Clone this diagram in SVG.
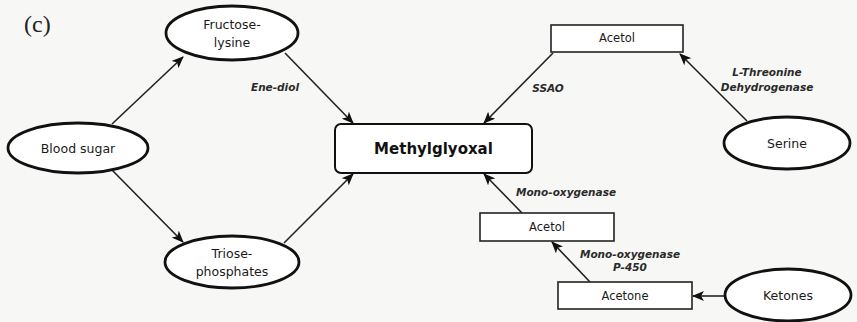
<svg xmlns="http://www.w3.org/2000/svg" width="857" height="322" viewBox="0 0 857 322">
<defs>
<style>
.e{fill:#fff;stroke:#111;stroke-width:2.8}
.r{fill:#fff;stroke:#222;stroke-width:1.6}
.t{font-family:"DejaVu Sans",Verdana,sans-serif;font-size:12.5px;fill:#1a1a1a;text-anchor:middle}
.s{font-family:"DejaVu Sans",Verdana,sans-serif;font-size:11.5px;fill:#1a1a1a;text-anchor:middle}
.l{font-family:"DejaVu Sans",Verdana,sans-serif;font-size:10.5px;font-style:italic;font-weight:bold;fill:#2a2a2a;text-anchor:middle}
.c{fill:none;stroke:#222;stroke-width:1.6;marker-end:url(#ah)}
</style>
<marker id="ah" viewBox="0 0 12 10" refX="11" refY="5" markerWidth="12" markerHeight="10" markerUnits="userSpaceOnUse" orient="auto">
<path d="M0,0 L12,5 L0,10 L3,5 Z" fill="#111"/>
</marker>
</defs>
<rect width="857" height="322" fill="#f7f7f5"/>
<text x="24" y="32" font-family="Liberation Serif,serif" font-size="24" fill="#222">(c)</text>
<g id="connectors">
<line class="c" x1="112" y1="124" x2="183" y2="57"/>
<line class="c" x1="112" y1="170" x2="183" y2="242"/>
<line class="c" x1="285" y1="53" x2="353" y2="123"/>
<line class="c" x1="284" y1="243" x2="353" y2="174"/>
<line class="c" x1="553" y1="53" x2="484" y2="123"/>
<line class="c" x1="747" y1="121" x2="680" y2="54"/>
<line class="c" x1="522" y1="213" x2="484" y2="174"/>
<line class="c" x1="590" y1="282" x2="552" y2="242"/>
<line class="c" x1="725" y1="296" x2="693" y2="296"/>
<text class="l" x="275" y="91">Ene-diol</text>
<text class="l" x="548" y="92">SSAO</text>
<text class="l" x="767" y="76">L-Threonine</text>
<text class="l" x="767" y="91">Dehydrogenase</text>
<text class="l" x="566" y="196">Mono-oxygenase</text>
<text class="l" x="630" y="258">Mono-oxygenase</text>
<text class="l" x="630" y="271">P-450</text>
</g>
<g id="fructose-lysine">
<ellipse class="e" cx="232" cy="33" rx="66" ry="27"/>
<text class="t" x="232" y="29">Fructose-</text>
<text class="t" x="232" y="47">lysine</text>
</g>
<g id="blood-sugar">
<ellipse class="e" cx="78" cy="148" rx="70" ry="25"/>
<text class="t" x="78" y="153">Blood sugar</text>
</g>
<g id="triose-phosphates">
<ellipse class="e" cx="232" cy="262" rx="67" ry="26"/>
<text class="t" x="232" y="258">Triose-</text>
<text class="t" x="232" y="276">phosphates</text>
</g>
<g id="methylglyoxal">
<rect x="335" y="124" width="197" height="49" rx="6" fill="#fff" stroke="#111" stroke-width="2"/>
<text x="433.5" y="154" font-family="DejaVu Sans,Verdana,sans-serif" font-size="15" font-weight="bold" fill="#111" text-anchor="middle">Methylglyoxal</text>
</g>
<g id="acetol-top">
<rect class="r" x="551" y="25" width="132" height="27"/>
<text class="s" x="617" y="42">Acetol</text>
</g>
<g id="serine">
<ellipse class="e" cx="787" cy="143" rx="63" ry="26"/>
<text class="t" x="787" y="148">Serine</text>
</g>
<g id="acetol-bottom">
<rect class="r" x="480" y="213" width="134" height="28"/>
<text class="s" x="547" y="231">Acetol</text>
</g>
<g id="acetone">
<rect class="r" x="558" y="282" width="134" height="27"/>
<text class="s" x="625" y="300">Acetone</text>
</g>
<g id="ketones">
<ellipse class="e" cx="788" cy="295" rx="63" ry="26"/>
<text class="t" x="788" y="300">Ketones</text>
</g>
</svg>
